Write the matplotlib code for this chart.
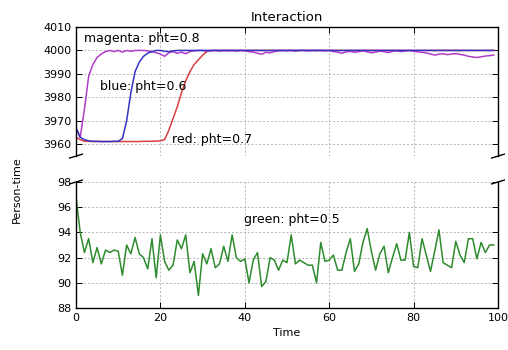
"""Broken-axis interaction plot: three saturating runs on top, noisy run below."""
import matplotlib
matplotlib.use("Agg")
import matplotlib.pyplot as plt

TIME = list(range(100))

MAGENTA = [
    3967, 3963, 3975, 3989, 3994, 3997, 3998.5, 3999.5, 4000, 3999.5,
    4000, 3999.3, 4000, 3999.6, 4000, 4000, 4000, 3999.8, 3999.5, 3999,
    3998.5, 3997.5, 3999, 3999.5, 3998.8, 3999.3, 3998.6, 3999.5, 3999.8, 4000,
    4000, 3999.6, 3999.8, 4000, 3999.7, 4000, 3999.8, 4000, 3999.7, 4000,
    3999.8, 3999.5, 3999.3, 3998.8, 3998.4, 3999.2, 3999, 3999.5, 3999.8, 4000,
    3999.8, 4000, 3999.7, 4000, 4000, 3999.8, 4000, 3999.9, 4000, 3999.8,
    4000, 3999.5, 3999.3, 3998.8, 3999.4, 3999.6, 3999.2, 3999.5, 3999.8, 3999.4,
    3999, 3999.3, 3999.7, 3999.5, 3999.1, 3999.6, 3999.8, 3999.5, 3999.7, 4000,
    3999.6, 3999.4, 3999.2, 3998.9, 3998.5, 3998, 3998.4, 3998.6, 3998.2, 3998.5,
    3998.6, 3998.3, 3998.0, 3997.5, 3997.2, 3997.0, 3997.3, 3997.6, 3997.8, 3998.0,
]

BLUE = [
    3967, 3963, 3962, 3961.5, 3961.3, 3961.3, 3961.2, 3961.2, 3961.2, 3961.3,
    3961.3, 3962.5, 3970, 3982, 3991, 3995, 3997.5, 3998.8, 3999.5, 4000,
    4000, 3999.6, 3999.5, 3999.8, 4000, 4000, 4000, 4000, 4000, 4000,
    4000, 4000, 4000, 4000, 4000, 4000, 4000, 4000, 4000, 4000,
    4000, 4000, 4000, 4000, 4000, 4000, 4000, 4000, 4000, 4000,
    4000, 4000, 4000, 4000, 4000, 4000, 4000, 4000, 4000, 4000,
    4000, 4000, 4000, 4000, 4000, 4000, 4000, 4000, 4000, 4000,
    4000, 4000, 4000, 4000, 4000, 4000, 4000, 4000, 4000, 4000,
    4000, 4000, 4000, 4000, 4000, 4000, 4000, 4000, 4000, 4000,
    4000, 4000, 4000, 4000, 4000, 4000, 4000, 4000, 4000, 4000,
]

RED = [
    3963, 3962, 3961.3, 3961.3, 3961.2, 3961.2, 3961.2, 3961.2, 3961.2, 3961.2,
    3961.2, 3961.2, 3961.2, 3961.2, 3961.2, 3961.2, 3961.3, 3961.3, 3961.3, 3961.4,
    3961.5, 3962, 3966, 3971, 3976, 3982, 3987, 3991, 3994, 3996,
    3998, 3999.5, 4000, 4000, 4000, 4000, 4000, 4000, 4000, 4000,
    4000, 4000, 4000, 4000, 4000, 4000, 4000, 4000, 4000, 4000,
    4000, 4000, 4000, 4000, 4000, 4000, 4000, 4000, 4000, 4000,
    4000, 4000, 4000, 4000, 4000, 4000, 4000, 4000, 4000, 4000,
    4000, 4000, 4000, 4000, 4000, 4000, 4000, 4000, 4000, 4000,
    4000, 4000, 4000, 4000, 4000, 4000, 4000, 4000, 4000, 4000,
    4000, 4000, 4000, 4000, 4000, 4000, 4000, 4000, 4000, 4000,
]

GREEN = [
    96.8, 94.0, 92.4, 93.5, 91.6, 92.8, 91.5, 92.6, 92.4, 92.6,
    92.5, 90.6, 93.0, 92.3, 93.6, 92.3, 92.0, 91.1, 93.5, 90.4,
    93.8, 91.7, 91.0, 91.4, 93.4, 92.7, 93.8, 90.8, 91.7, 89.0,
    92.3, 91.5, 92.7, 91.2, 91.5, 92.9, 91.7, 93.8, 92.0, 91.7,
    91.9, 90.0, 91.8, 92.4, 89.7, 90.1, 92.0, 91.8, 91.0, 91.8,
    91.6, 93.8, 91.5, 91.8, 91.6, 91.4, 91.4, 90.0, 93.2, 91.7,
    91.8, 92.2, 91.0, 91.0, 92.4, 93.5, 90.9, 91.5, 93.2, 94.3,
    92.5, 91.0, 92.3, 92.9, 90.8, 92.0, 93.1, 91.8, 91.8, 94.0,
    91.3, 91.2, 93.5, 92.2, 90.9, 92.5, 94.2, 91.6, 91.4, 91.2,
    93.3, 92.2, 91.6, 93.5, 93.5, 91.9, 93.2, 92.4, 93.0, 93.0,
]

TOP_TICKS = [3960, 3970, 3980, 3990, 4000, 4010]
BOTTOM_TICKS = [88, 90, 92, 94, 96, 98]
X_TICKS = [0, 20, 40, 60, 80, 100]

plt.rcParams["font.family"] = "DejaVu Sans"
fig = plt.figure(figsize=(5.08, 3.5), dpi=100)
ax_top = fig.add_axes([0.1496, 0.554, 0.8307, 0.369])
ax_bot = fig.add_axes([0.1496, 0.120, 0.8307, 0.360], sharex=ax_top)

ax_top.plot(TIME, RED, color="#d94040", lw=1.1)
ax_top.plot(TIME, MAGENTA, color="#b03cc8", lw=1.1)
ax_top.plot(TIME, BLUE, color="#3434c4", lw=1.1)
ax_bot.plot(TIME, GREEN, color="#2e8b2e", lw=1.1)

ax_top.set_ylim(3955, 4010)
ax_bot.set_ylim(88, 98)
ax_top.set_xlim(0, 100)
ax_top.set_yticks(TOP_TICKS)
ax_bot.set_yticks(BOTTOM_TICKS)
ax_bot.set_xticks(X_TICKS)

for ax in (ax_top, ax_bot):
    ax.grid(True, color="#b4b4b4", linestyle=(0, (2, 2)), linewidth=0.7)
    ax.tick_params(direction="in", labelsize=8, length=4, width=0.7,
                   right=True, top=False)
    for sp in ax.spines.values():
        sp.set_linewidth(1.0)

# hide the facing spines so the two panels read as one broken axis
ax_top.spines["bottom"].set_visible(False)
ax_bot.spines["top"].set_visible(False)
ax_top.tick_params(labelbottom=False, bottom=False, top=True)

d = 0.015
kw = dict(transform=ax_top.transAxes, color="k", clip_on=False, lw=1.0)
ax_top.plot((-d, +d), (-d, +d), **kw)
ax_top.plot((1 - d, 1 + d), (-d, +d), **kw)
kw.update(transform=ax_bot.transAxes)
ax_bot.plot((-d, +d), (1 - d, 1 + d), **kw)
ax_bot.plot((1 - d, 1 + d), (1 - d, 1 + d), **kw)

ax_top.text(1.9, 4005, "magenta: pht=0.8", fontsize=9, va="center")
ax_top.text(5.7, 3984.6, "blue: pht=0.6", fontsize=9, va="center")
ax_top.text(22.7, 3962.1, "red: pht=0.7", fontsize=9, va="center")
ax_bot.text(39.8, 95.0, "green: pht=0.5", fontsize=9, va="center")

ax_top.set_title("Interaction", fontsize=9.5, pad=4)
ax_bot.set_xlabel("Time", fontsize=8, labelpad=4)
fig.text(0.033, 0.457, "Person-time", rotation=90, fontsize=8,
         ha="center", va="center")

fig.savefig("out.png", dpi=100)
